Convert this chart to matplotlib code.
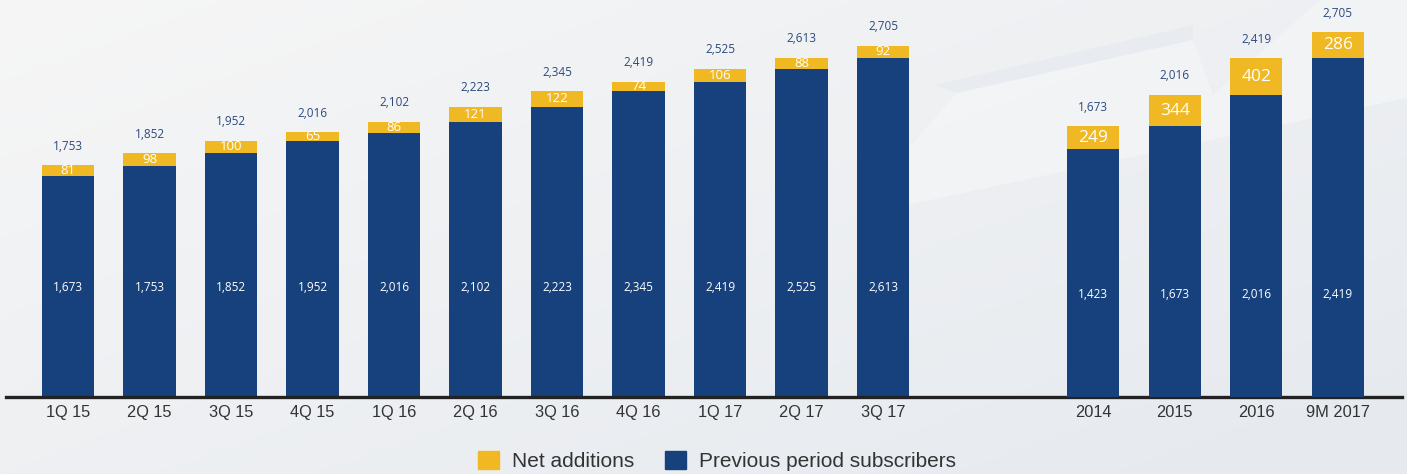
import numpy as np
import matplotlib
matplotlib.use("Agg")
import matplotlib.pyplot as plt
import matplotlib.colors as mcolors
import matplotlib.transforms as mtrans
from matplotlib.patches import Patch, Polygon

# quarterly data
q_labels = ["1Q 15", "2Q 15", "3Q 15", "4Q 15", "1Q 16", "2Q 16", "3Q 16",
            "4Q 16", "1Q 17", "2Q 17", "3Q 17"]
q_prev = [1673, 1753, 1852, 1952, 2016, 2102, 2223, 2345, 2419, 2525, 2613]
q_net = [81, 98, 100, 65, 86, 121, 122, 74, 106, 88, 92]
q_total = [1753, 1852, 1952, 2016, 2102, 2223, 2345, 2419, 2525, 2613, 2705]

# annual data
y_labels = ["2014", "2015", "2016", "9M 2017"]
y_prev = [1423, 1673, 2016, 2419]
y_net = [249, 344, 402, 286]
y_total = [1673, 2016, 2419, 2705]

BLUE = "#17417c"
YELLOW = "#f0b823"
LABEL = "#2b4a7e"
BG = "#f2f3f5"

W, H = 1407, 474
fig = plt.figure(figsize=(W / 100, H / 100), dpi=100, facecolor=BG)

# soft slide background: light grey fading to pale blue, with a faint band
bg = fig.add_axes([0, 0, 1, 1], zorder=-10)
bg.set_axis_off()
gx, gy = np.meshgrid(np.linspace(0, 1, 300), np.linspace(0, 1, 100))
t = np.clip(0.55 * gx + 0.5 * gy, 0, 1)[..., None]
c0 = np.array(mcolors.to_rgb("#f6f6f6"))
c1 = np.array(mcolors.to_rgb("#e6eaef"))
bg.imshow(c0 * (1 - t) + c1 * t, extent=[0, W, H, 0], aspect="auto")
bg.add_patch(Polygon([[860, 215], [1407, 98], [1407, 0], [1320, 0],
                      [1213, 95], [1193, 40], [957, 93], [880, 180]],
                     closed=True, facecolor="white", alpha=0.3, lw=0))
bg.add_patch(Polygon([[935, 85], [1193, 25], [1193, 40], [957, 93]],
                     closed=True, facecolor="#dfe7ef", alpha=0.35, lw=0))
bg.set_xlim(0, W)
bg.set_ylim(H, 0)

base_px = 397
ax = fig.add_axes([6 / W, (H - base_px) / H, (1402 - 6) / W, base_px / H])
ax.patch.set_alpha(0)
ax2 = ax.twinx()
ax2.patch.set_alpha(0)

step = 81.5
xq = np.arange(len(q_labels))
xy = 12.58 + np.arange(len(y_labels))
width = 0.64
ax.set_xlim((6 - 68) / step, (1402 - 68) / step)

# the two groups use different vertical scales, as in the source slide
q_lo, q_hi = -90, 3071
y_lo, y_hi = -1300, 3058
ax.set_ylim(q_lo, q_hi)
ax2.set_ylim(y_lo, y_hi)

num_font = "Open Sans"


def fmt(v):
    return f"{v:,}"


def draw_group(a, x, prev, net, total, lo, big, inner_y):
    a.bar(x, np.array(prev) - lo, width, bottom=lo, color=BLUE, zorder=2)
    a.bar(x, net, width, bottom=prev, color=YELLOW, zorder=2)
    tr = mtrans.blended_transform_factory(a.transData, a.transAxes)
    for xi, p, n, tot in zip(x, prev, net, total):
        a.annotate(fmt(tot), (xi, tot), xytext=(0, 9), textcoords="offset points",
                   ha="center", va="bottom", fontsize=8.5, color=LABEL,
                   family=num_font)
        a.text(xi, p + n / 2, fmt(n), ha="center", va="center",
               fontsize=12.5 if big else 9.5, color="white", family=num_font)
        a.text(xi, inner_y, fmt(p), ha="center", va="center", transform=tr,
               fontsize=8.5, color="white", family=num_font)


draw_group(ax, xq, q_prev, q_net, q_total, q_lo, False, 0.277)
draw_group(ax2, xy, y_prev, y_net, y_total, y_lo, True, 0.259)

ax.set_xticks(list(xq) + list(xy))
ax.set_xticklabels(q_labels + y_labels, fontsize=11.8, family="Liberation Sans",
                   color="#333333")
ax.tick_params(axis="x", length=0, pad=6)
ax.set_yticks([])
ax2.set_yticks([])
for a in (ax, ax2):
    for s in ("top", "left", "right"):
        a.spines[s].set_visible(False)
ax2.spines["bottom"].set_visible(False)
ax.spines["bottom"].set_color("#222222")
ax.spines["bottom"].set_linewidth(2.4)
ax.spines["bottom"].set_zorder(3)

handles = [Patch(color=YELLOW, label="Net additions"),
           Patch(color=BLUE, label="Previous period subscribers")]
fig.legend(handles=handles, loc="center", bbox_to_anchor=(717 / W, 1 - 461 / H),
           ncol=2, frameon=False, handlelength=1.0, handleheight=1.0,
           handletextpad=0.6, columnspacing=1.5,
           prop={"family": "Liberation Sans", "size": 15}, labelcolor="#333333")

fig.savefig("out.png", dpi=100, facecolor=BG)
